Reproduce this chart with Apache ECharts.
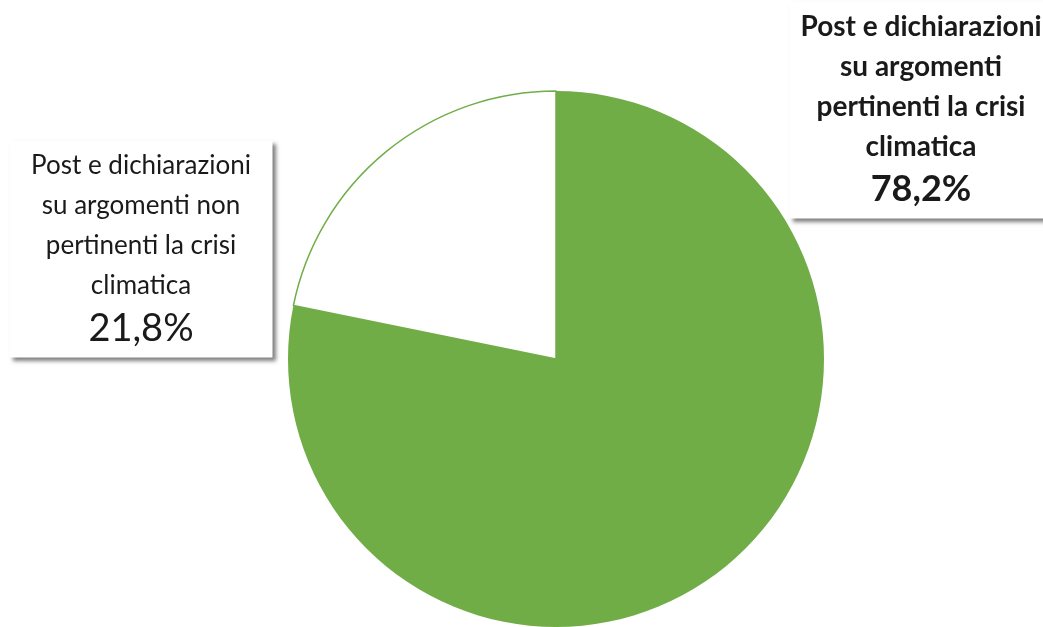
<!DOCTYPE html>
<html>
<head>
<meta charset="utf-8">
<script src="https://cdn.jsdelivr.net/npm/echarts@6/dist/echarts.min.js"></script>
<style>
  html, body { margin: 0; padding: 0; background: #fff; }
  #chart { width: 1043px; height: 627px; }
</style>
</head>
<body>
<div id="chart"></div>
<script>
// categories and values
var categories = [
  'Post e dichiarazioni\nsu argomenti\npertinenti la crisi\nclimatica',
  'Post e dichiarazioni\nsu argomenti non\npertinenti la crisi\nclimatica'
];
var values = [78.2, 21.8];
var valueLabels = ['78,2%', '21,8%'];

var chart = echarts.init(document.getElementById('chart'));

var labelPos = [
  { x: 921, y: 110 },
  { x: 141, y: 249 }
];

var option = {
  animation: false,
  series: [{
    type: 'pie',
    center: [556, 359],
    radius: 268,
    startAngle: 90,
    clockwise: true,
    data: [
      {
        name: categories[0], value: values[0],
        itemStyle: { color: '#70AD47' },
        label: {
          formatter: '{b|{b}}\n{bv|' + valueLabels[0] + '}'
        }
      },
      {
        name: categories[1], value: values[1],
        itemStyle: { color: '#ffffff', borderColor: '#70AD47', borderWidth: 1.5 },
        label: {
          formatter: '{n|{b}}\n{nv|' + valueLabels[1] + '}'
        }
      }
    ],
    label: {
      show: true,
      position: 'outside',
      backgroundColor: '#fff',
      shadowColor: 'rgba(0,0,0,0.5)',
      shadowBlur: 4,
      shadowOffsetX: 3,
      shadowOffsetY: 3,
      padding: [5, 8, 6, 8],
      width: 247,
      align: 'center',
      color: '#1a1a1a',
      fontFamily: 'Lato',
      rich: {
        n: { fontSize: 26, lineHeight: 40, fontFamily: 'Lato', color: '#1a1a1a', align: 'center' },
        nv: { fontSize: 38, lineHeight: 46, fontFamily: 'Lato', color: '#1a1a1a', align: 'center' },
        b: { fontSize: 28, lineHeight: 40, fontWeight: 'bold', fontFamily: 'Lato', color: '#1a1a1a', align: 'center' },
        bv: { fontSize: 36, lineHeight: 46, fontWeight: 'bold', fontFamily: 'Lato', color: '#1a1a1a', align: 'center' }
      }
    },
    labelLine: { show: false },
    labelLayout: function (params) {
      var p = labelPos[params.dataIndex];
      return { x: p.x, y: p.y, align: 'center', verticalAlign: 'middle' };
    },
    emphasis: { disabled: true }
  }]
};

chart.setOption(option);
</script>
</body>
</html>
